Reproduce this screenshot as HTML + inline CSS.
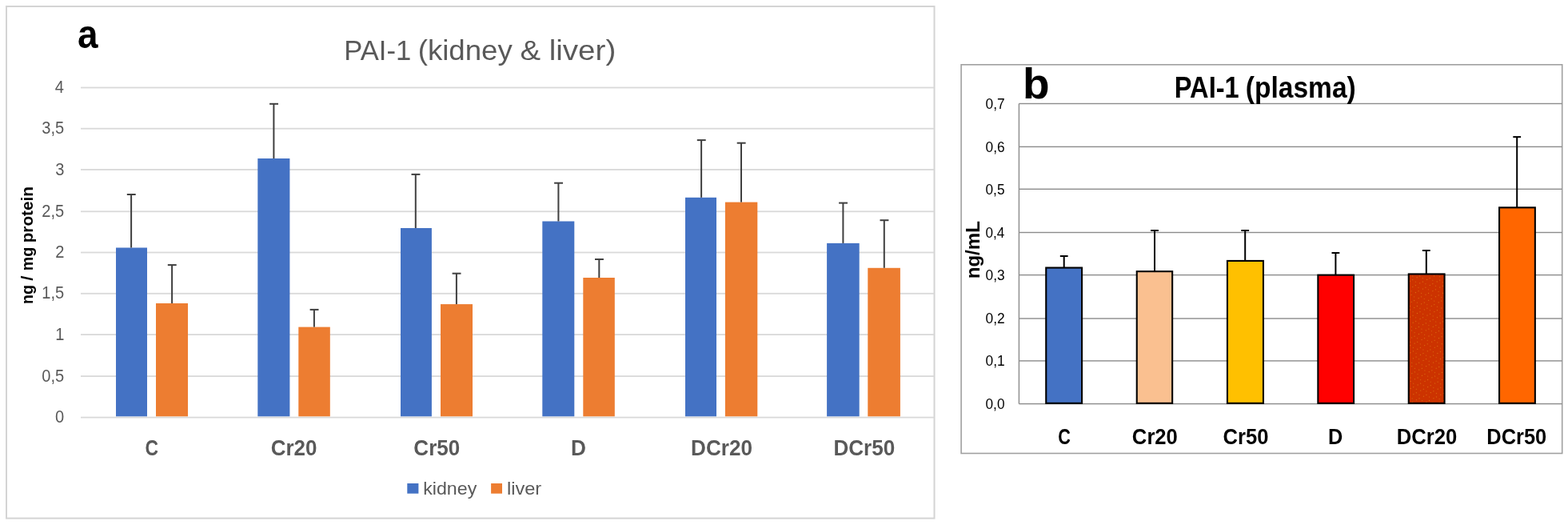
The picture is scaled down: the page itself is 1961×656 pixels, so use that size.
<!DOCTYPE html>
<html lang="en">
<head>
<meta charset="utf-8">
<title>PAI-1 (kidney &amp; liver) / PAI-1 (plasma)</title>
<style>
html,body{margin:0;padding:0;background:#fff;}
body{width:1961px;height:656px;overflow:hidden;font-family:"Liberation Sans",Arial,sans-serif;}
svg{display:block;}
</style>
</head>
<body>
<svg width="1961" height="656" viewBox="0 0 1961 656" font-family="'Liberation Sans', Arial, sans-serif">
<defs><pattern id="dots" width="10" height="8" patternUnits="userSpaceOnUse" patternTransform="rotate(-27)"><rect width="10" height="8" fill="#cc3300"/><rect x="1" y="1" width="1" height="1" fill="#dd7412"/><rect x="5" y="1" width="1" height="1" fill="#dd7412"/><rect x="7" y="5" width="1" height="1" fill="#d9650e"/></pattern></defs>
<rect width="1961" height="656" fill="#ffffff"/>
<rect x="8" y="8" width="1160.5" height="639.6" fill="#fff" stroke="#d4d4d4" stroke-width="2"/>
<rect x="101" y="520.70" width="1067" height="1.8" fill="#d9d9d9"/>
<rect x="101" y="469.20" width="1067" height="1.8" fill="#d9d9d9"/>
<rect x="101" y="417.20" width="1067" height="1.8" fill="#d9d9d9"/>
<rect x="101" y="365.90" width="1067" height="1.8" fill="#d9d9d9"/>
<rect x="101" y="314.60" width="1067" height="1.8" fill="#d9d9d9"/>
<rect x="101" y="263.40" width="1067" height="1.8" fill="#d9d9d9"/>
<rect x="101" y="211.05" width="1067" height="1.8" fill="#d9d9d9"/>
<rect x="101" y="159.80" width="1067" height="1.8" fill="#d9d9d9"/>
<rect x="101" y="108.60" width="1067" height="1.8" fill="#d9d9d9"/>
<text transform="translate(69.05 528.20) scale(0.9300 1)" font-size="21.6" font-weight="normal" fill="#595959">0</text>
<text transform="translate(52.28 476.70) scale(0.9300 1)" font-size="21.6" font-weight="normal" fill="#595959">0,5</text>
<text transform="translate(69.26 424.70) scale(0.9300 1)" font-size="21.6" font-weight="normal" fill="#595959">1</text>
<text transform="translate(52.28 373.40) scale(0.9300 1)" font-size="21.6" font-weight="normal" fill="#595959">1,5</text>
<text transform="translate(69.26 322.10) scale(0.9300 1)" font-size="21.6" font-weight="normal" fill="#595959">2</text>
<text transform="translate(52.28 270.90) scale(0.9300 1)" font-size="21.6" font-weight="normal" fill="#595959">2,5</text>
<text transform="translate(69.16 218.55) scale(0.9300 1)" font-size="21.6" font-weight="normal" fill="#595959">3</text>
<text transform="translate(52.28 167.30) scale(0.9300 1)" font-size="21.6" font-weight="normal" fill="#595959">3,5</text>
<text transform="translate(68.85 116.10) scale(0.9300 1)" font-size="21.6" font-weight="normal" fill="#595959">4</text>
<rect x="145.0" y="309.5" width="39.0" height="210.8" fill="#4472c4"/>
<rect x="195.0" y="379.0" width="40.0" height="141.3" fill="#ed7d31"/>
<rect x="322.3" y="198.0" width="40.1" height="322.3" fill="#4472c4"/>
<rect x="373.3" y="408.6" width="39.5" height="111.7" fill="#ed7d31"/>
<rect x="501.0" y="285.0" width="38.9" height="235.3" fill="#4472c4"/>
<rect x="551.0" y="380.1" width="40.0" height="140.2" fill="#ed7d31"/>
<rect x="678.3" y="276.5" width="40.0" height="243.8" fill="#4472c4"/>
<rect x="729.3" y="347.0" width="39.5" height="173.3" fill="#ed7d31"/>
<rect x="857.0" y="246.8" width="39.0" height="273.5" fill="#4472c4"/>
<rect x="906.9" y="252.6" width="40.4" height="267.7" fill="#ed7d31"/>
<rect x="1034.1" y="303.9" width="40.6" height="216.4" fill="#4472c4"/>
<rect x="1085.3" y="334.8" width="40.6" height="185.5" fill="#ed7d31"/>
<rect x="163.10" y="243.0" width="2" height="66.5" fill="#404040"/>
<rect x="158.80" y="242.00" width="10.9" height="2" fill="#404040"/>
<rect x="214.10" y="331.1" width="2" height="47.9" fill="#404040"/>
<rect x="209.80" y="330.10" width="10.9" height="2" fill="#404040"/>
<rect x="341.40" y="129.8" width="2" height="68.2" fill="#404040"/>
<rect x="337.10" y="128.80" width="10.9" height="2" fill="#404040"/>
<rect x="391.90" y="386.9" width="2" height="21.7" fill="#404040"/>
<rect x="387.60" y="385.90" width="10.9" height="2" fill="#404040"/>
<rect x="518.80" y="217.9" width="2" height="67.1" fill="#404040"/>
<rect x="514.50" y="216.90" width="10.9" height="2" fill="#404040"/>
<rect x="569.90" y="341.7" width="2" height="38.4" fill="#404040"/>
<rect x="565.60" y="340.70" width="10.9" height="2" fill="#404040"/>
<rect x="697.40" y="228.7" width="2" height="47.8" fill="#404040"/>
<rect x="693.10" y="227.70" width="10.9" height="2" fill="#404040"/>
<rect x="748.30" y="324.0" width="2" height="23.0" fill="#404040"/>
<rect x="744.00" y="323.00" width="10.9" height="2" fill="#404040"/>
<rect x="876.10" y="175.1" width="2" height="71.7" fill="#404040"/>
<rect x="871.80" y="174.10" width="10.9" height="2" fill="#404040"/>
<rect x="926.00" y="178.7" width="2" height="73.9" fill="#404040"/>
<rect x="921.70" y="177.70" width="10.9" height="2" fill="#404040"/>
<rect x="1053.40" y="253.6" width="2" height="50.3" fill="#404040"/>
<rect x="1049.10" y="252.60" width="10.9" height="2" fill="#404040"/>
<rect x="1104.80" y="275.2" width="2" height="59.6" fill="#404040"/>
<rect x="1100.50" y="274.20" width="10.9" height="2" fill="#404040"/>
<text transform="translate(181.58 569.30) scale(0.8389 1)" font-size="27.3" font-weight="bold" fill="#595959">C</text>
<text transform="translate(338.66 569.30) scale(0.9529 1)" font-size="27.3" font-weight="bold" fill="#595959">Cr20</text>
<text transform="translate(517.36 569.30) scale(0.9529 1)" font-size="27.3" font-weight="bold" fill="#595959">Cr50</text>
<text transform="translate(714.10 569.30) scale(0.9589 1)" font-size="27.3" font-weight="bold" fill="#595959">D</text>
<text transform="translate(864.10 569.30) scale(0.9557 1)" font-size="27.3" font-weight="bold" fill="#595959">DCr20</text>
<text transform="translate(1042.40 569.30) scale(0.9557 1)" font-size="27.3" font-weight="bold" fill="#595959">DCr50</text>
<text transform="translate(0 75.40)" font-size="35.2" font-weight="normal" fill="#595959" xml:space="preserve"><tspan x="430.13" textLength="84.07" lengthAdjust="spacingAndGlyphs">PAI-1</tspan> <tspan x="522.70" textLength="118.13" lengthAdjust="spacingAndGlyphs">(kidney</tspan> <tspan x="650.56" textLength="25.60" lengthAdjust="spacingAndGlyphs">&amp;</tspan> <tspan x="686.69" textLength="83.58" lengthAdjust="spacingAndGlyphs">liver)</tspan></text>
<rect x="509.3" y="604" width="14.1" height="12.7" fill="#4472c4"/>
<rect x="614.1" y="604" width="13.9" height="12.7" fill="#ed7d31"/>
<text transform="translate(529.19 617.80) scale(1.0655 1)" font-size="21.8" font-weight="normal" fill="#595959">kidney</text>
<text transform="translate(633.97 617.80) scale(1.0826 1)" font-size="21.8" font-weight="normal" fill="#595959">liver</text>
<text transform="translate(41.30 0) rotate(-90)" font-size="20.5" font-weight="bold" fill="#000" xml:space="preserve"><tspan x="-380.08" textLength="23.99" lengthAdjust="spacingAndGlyphs">ng</tspan> <tspan x="-350.82" textLength="6.20" lengthAdjust="spacingAndGlyphs">/</tspan> <tspan x="-338.28" textLength="29.56" lengthAdjust="spacingAndGlyphs">mg</tspan> <tspan x="-303.35" textLength="70.37" lengthAdjust="spacingAndGlyphs">protein</tspan></text>
<text transform="translate(97.12 60.31) scale(0.9262 0.9991)" font-size="49.5" font-weight="bold" fill="#000">a</text>
<rect x="1202.1" y="80.8" width="751.6" height="485.7" fill="#fff" stroke="#a0a0a0" stroke-width="1.6"/>
<rect x="1274.4" y="503.90" width="679.3" height="1.4" fill="#8c8c8c"/>
<rect x="1274.4" y="450.20" width="679.3" height="1.4" fill="#8c8c8c"/>
<rect x="1274.4" y="397.30" width="679.3" height="1.4" fill="#8c8c8c"/>
<rect x="1274.4" y="342.90" width="679.3" height="1.4" fill="#8c8c8c"/>
<rect x="1274.4" y="289.80" width="679.3" height="1.4" fill="#8c8c8c"/>
<rect x="1274.4" y="235.60" width="679.3" height="1.4" fill="#8c8c8c"/>
<rect x="1274.4" y="182.70" width="679.3" height="1.4" fill="#8c8c8c"/>
<rect x="1274.4" y="128.80" width="679.3" height="1.4" fill="#8c8c8c"/>
<rect x="1273.70" y="129.5" width="1.4" height="375.1" fill="#8c8c8c"/>
<text transform="translate(1232.51 511.00) scale(0.9080 1)" font-size="19" font-weight="normal" fill="#000">0,0</text>
<text transform="translate(1232.50 457.30) scale(0.9150 1)" font-size="19" font-weight="normal" fill="#000">0,1</text>
<text transform="translate(1232.50 404.40) scale(0.9150 1)" font-size="19" font-weight="normal" fill="#000">0,2</text>
<text transform="translate(1232.51 350.00) scale(0.9115 1)" font-size="19" font-weight="normal" fill="#000">0,3</text>
<text transform="translate(1232.52 296.90) scale(0.9011 1)" font-size="19" font-weight="normal" fill="#000">0,4</text>
<text transform="translate(1232.51 242.70) scale(0.9080 1)" font-size="19" font-weight="normal" fill="#000">0,5</text>
<text transform="translate(1232.51 189.80) scale(0.9115 1)" font-size="19" font-weight="normal" fill="#000">0,6</text>
<text transform="translate(1232.50 135.90) scale(0.9150 1)" font-size="19" font-weight="normal" fill="#000">0,7</text>
<rect x="1308.25" y="334.55" width="44.80" height="169.30" fill="#4472c4" stroke="#000" stroke-width="2.1"/>
<rect x="1329.70" y="320.0" width="2" height="14.5" fill="#000"/>
<rect x="1325.80" y="319.00" width="9.8" height="2" fill="#000"/>
<rect x="1421.75" y="339.15" width="44.40" height="164.70" fill="#fac090" stroke="#000" stroke-width="2.1"/>
<rect x="1443.00" y="288.0" width="2" height="51.1" fill="#000"/>
<rect x="1439.10" y="287.00" width="9.8" height="2" fill="#000"/>
<rect x="1534.95" y="325.95" width="45.00" height="177.90" fill="#ffc000" stroke="#000" stroke-width="2.1"/>
<rect x="1556.20" y="288.0" width="2" height="37.9" fill="#000"/>
<rect x="1552.30" y="287.00" width="9.8" height="2" fill="#000"/>
<rect x="1648.35" y="343.65" width="44.70" height="160.20" fill="#ff0000" stroke="#000" stroke-width="2.1"/>
<rect x="1669.40" y="316.0" width="2" height="27.6" fill="#000"/>
<rect x="1665.50" y="315.00" width="9.8" height="2" fill="#000"/>
<rect x="1761.75" y="342.45" width="44.80" height="161.40" fill="url(#dots)" stroke="#000" stroke-width="2.1"/>
<rect x="1782.80" y="313.0" width="2" height="29.4" fill="#000"/>
<rect x="1778.90" y="312.00" width="9.8" height="2" fill="#000"/>
<rect x="1875.05" y="259.35" width="44.80" height="244.50" fill="#ff6600" stroke="#000" stroke-width="2.1"/>
<rect x="1896.20" y="171.1" width="2" height="88.2" fill="#000"/>
<rect x="1892.30" y="170.10" width="9.8" height="2" fill="#000"/>
<text transform="translate(1323.13 555.20) scale(0.7855 1)" font-size="27.6" font-weight="bold" fill="#000">C</text>
<text transform="translate(1415.87 555.20) scale(0.9290 1)" font-size="27.6" font-weight="bold" fill="#000">Cr20</text>
<text transform="translate(1529.48 555.20) scale(0.9273 1)" font-size="27.6" font-weight="bold" fill="#000">Cr50</text>
<text transform="translate(1660.95 555.20) scale(0.9191 1)" font-size="27.6" font-weight="bold" fill="#000">D</text>
<text transform="translate(1746.73 555.20) scale(0.9288 1)" font-size="27.6" font-weight="bold" fill="#000">DCr20</text>
<text transform="translate(1859.35 555.20) scale(0.9211 1)" font-size="27.6" font-weight="bold" fill="#000">DCr50</text>
<text transform="translate(0 122.30)" font-size="37.1" font-weight="bold" fill="#000" xml:space="preserve"><tspan x="1468.78" textLength="80.90" lengthAdjust="spacingAndGlyphs">PAI-1</tspan> <tspan x="1557.82" textLength="137.93" lengthAdjust="spacingAndGlyphs">(plasma)</tspan></text>
<text transform="translate(1225.40 348.26) rotate(-90) scale(1.0372 1)" font-size="23.2" font-weight="bold" fill="#000">ng/mL</text>
<text transform="translate(1279.12 122.96) scale(1.0270 1.0001)" font-size="53.6" font-weight="bold" fill="#000">b</text>
</svg>
</body>
</html>
